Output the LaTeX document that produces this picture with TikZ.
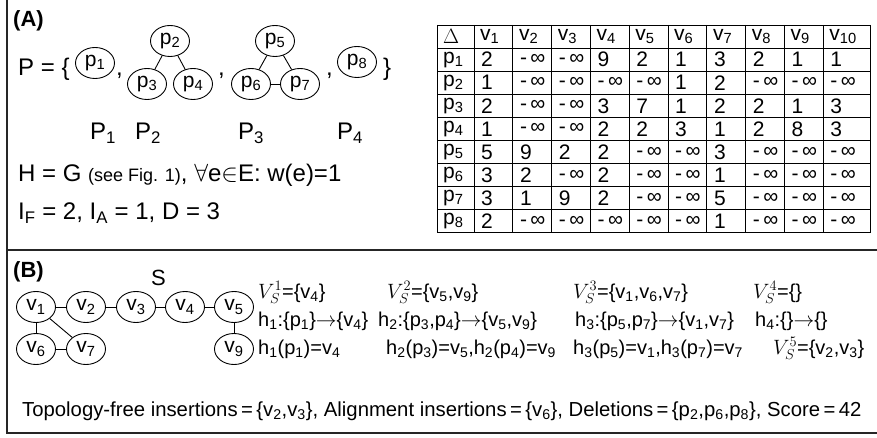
\documentclass[tikz,border=0pt]{standalone}
\usepackage{fontspec}
\setmainfont{Liberation Sans}
\usetikzlibrary{shapes.geometric}
\newcommand{\setsize}[1]{\fontsize{#1}{#1}\selectfont}
\newcommand{\pn}[1]{p\textsubscript{#1}}
\newcommand{\vn}[1]{v\textsubscript{#1}}
\newcommand{\minf}{-\,∞}
\begin{document}
\begin{tikzpicture}[x=1pt,y=-1pt,
pnode/.style={ellipse, draw, line width=0.9pt, minimum width=39pt, minimum height=31pt, inner sep=0pt, font=\setsize{21}},
txt/.style={anchor=base west, inner sep=0pt, font=\setsize{24}},
small/.style={anchor=base west, inner sep=0pt, font=\setsize{20}},
cell/.style={anchor=west, inner sep=0pt, font=\setsize{21}},
grid/.style={line width=0.9pt},
frame/.style={line width=1.3pt, black!85},
]
\useasboundingbox (0,0) rectangle (877,438);
%Frame
\draw[frame] (7,0) -- (7,433) -- (877,433);
\draw[frame] (7,250) -- (877,250);

%Panel A: pattern set
\node[txt, font=\bfseries\setsize{22}] (labelA) at (13,27) {(A)};
\node[txt] (Pset)   at (18,76)  {P = \{};
\node[pnode] (p1)   at (95,63)  {\pn{1}};
\node[txt] (comma1) at (116,76) {,};
\node[pnode] (p2)   at (170,41) {\pn{2}};
\node[pnode] (p3)   at (147,84) {\pn{3}};
\node[pnode] (p4)   at (193,84) {\pn{4}};
\node[txt] (comma2) at (218,76) {,};
\node[pnode] (p5)   at (275,41) {\pn{5}};
\node[pnode] (p6)   at (251,84) {\pn{6}};
\node[pnode] (p7)   at (300,84) {\pn{7}};
\node[txt] (comma3) at (326,76) {,};
\node[pnode] (p8)   at (357,62) {\pn{8}};
\node[txt] (Pend)   at (383,76) {\}};
\draw[grid] (p2) -- (p3);
\draw[grid] (p2) -- (p4);
\draw[grid] (p5) -- (p6);
\draw[grid] (p5) -- (p7);
\draw[grid] (p6) -- (p7);
\node[txt] (P1) at (90,140)  {P\textsubscript{1}};
\node[txt] (P2) at (135,140) {P\textsubscript{2}};
\node[txt] (P3) at (238,140) {P\textsubscript{3}};
\node[txt] (P4) at (337,140) {P\textsubscript{4}};
\node[txt] (hline) at (18,182) {H = G {\setsize{18}(see Fig. 1)}, $\forall$e$\in$E: w(e)=1};
\node[txt] (iline) at (18,220) {I\textsubscript{F} = 2, I\textsubscript{A} = 1, D = 3};

%Panel A: score table
\node[cell] (head0) at (443,36.5) {$\Delta$};
\foreach \c in {1,...,10}
  \node[cell] (head\c) at ({474+38.8*(\c-1)+6},36.5) {\vn{\c}};
\foreach \rowvals [count=\r] in {
  {2,\minf,\minf,9,2,1,3,2,1,1},
  {1,\minf,\minf,\minf,\minf,1,2,\minf,\minf,\minf},
  {2,\minf,\minf,3,7,1,2,2,1,3},
  {1,\minf,\minf,2,2,3,1,2,8,3},
  {5,9,2,2,\minf,\minf,3,\minf,\minf,\minf},
  {3,2,\minf,2,\minf,\minf,1,\minf,\minf,\minf},
  {3,1,9,2,\minf,\minf,5,\minf,\minf,\minf},
  {2,\minf,\minf,\minf,\minf,\minf,1,\minf,\minf,\minf}}{
  \node[cell] (row\r) at (443,{25+23.1*\r+11.55}) {\pn{\r}};
  \foreach \val [count=\c] in \rowvals
    \node[cell] (cell\r-\c) at ({474+38.8*(\c-1)+7},{25+23.1*\r+11.55}) {\val};
}
\foreach \r in {0,...,9}
  \draw[grid] (437,{25+23.1*\r}) -- (870,{25+23.1*\r});
\draw[grid] (437,25) -- (437,233);
\foreach \c in {0,...,9}
  \draw[grid] ({474+38.8*\c},25) -- ({474+38.8*\c},233);
\draw[grid] (870,25) -- (870,233);

%Panel B: solution graph S
\node[txt, font=\bfseries\setsize{22}] (labelB) at (13,277) {(B)};
\node[txt, font=\setsize{22}] (Slabel) at (151,285) {S};
\node[pnode] (v1) at (36,307)  {\vn{1}};
\node[pnode] (v2) at (86,307)  {\vn{2}};
\node[pnode] (v3) at (136,307) {\vn{3}};
\node[pnode] (v4) at (185,307) {\vn{4}};
\node[pnode] (v5) at (234,307) {\vn{5}};
\node[pnode] (v6) at (36,349)  {\vn{6}};
\node[pnode] (v7) at (86,349)  {\vn{7}};
\node[pnode] (v9) at (234,349) {\vn{9}};
\draw[grid] (v1) -- (v2);
\draw[grid] (v2) -- (v3);
\draw[grid] (v3) -- (v4);
\draw[grid] (v4) -- (v5);
\draw[grid] (v1) -- (v6);
\draw[grid] (v1) -- (v7);
\draw[grid] (v6) -- (v7);
\draw[grid] (v5) -- (v9);

%Panel B: mappings
\node[small] (VS1) at (258,298) {$V_S^1$=\{\vn{4}\}};
\node[small] (VS2) at (387,298) {$V_S^2$=\{\vn{5},\vn{9}\}};
\node[small] (VS3) at (573,298) {$V_S^3$=\{\vn{1},\vn{6},\vn{7}\}};
\node[small] (VS4) at (753,298) {$V_S^4$=\{\}};
\node[small] (h1) at (258,326) {h\textsubscript{1}:\{\pn{1}\}$\rightarrow$\{\vn{4}\}};
\node[small] (h2) at (378,326) {h\textsubscript{2}:\{\pn{3},\pn{4}\}$\rightarrow$\{\vn{5},\vn{9}\}};
\node[small] (h3) at (575,326) {h\textsubscript{3}:\{\pn{5},\pn{7}\}$\rightarrow$\{\vn{1},\vn{7}\}};
\node[small] (h4) at (755,326) {h\textsubscript{4}:\{\}$\rightarrow$\{\}};
\node[small] (m1) at (258,354) {h\textsubscript{1}(\pn{1})=\vn{4}};
\node[small] (m2) at (386,354) {h\textsubscript{2}(\pn{3})=\vn{5},h\textsubscript{2}(\pn{4})=\vn{9}};
\node[small] (m3) at (573,354) {h\textsubscript{3}(\pn{5})=\vn{1},h\textsubscript{3}(\pn{7})=\vn{7}};
\node[small] (VS5) at (773,354) {$V_S^5$=\{\vn{2},\vn{3}\}};
\node[small, font=\setsize{20.3}] (summary) at (22,416) {Topology-free insertions\,=\,\{\vn{2},\vn{3}\}, Alignment insertions\,=\,\{\vn{6}\}, Deletions\,=\,\{\pn{2},\pn{6},\pn{8}\}, Score\,=\,42};
\end{tikzpicture}
\end{document}
